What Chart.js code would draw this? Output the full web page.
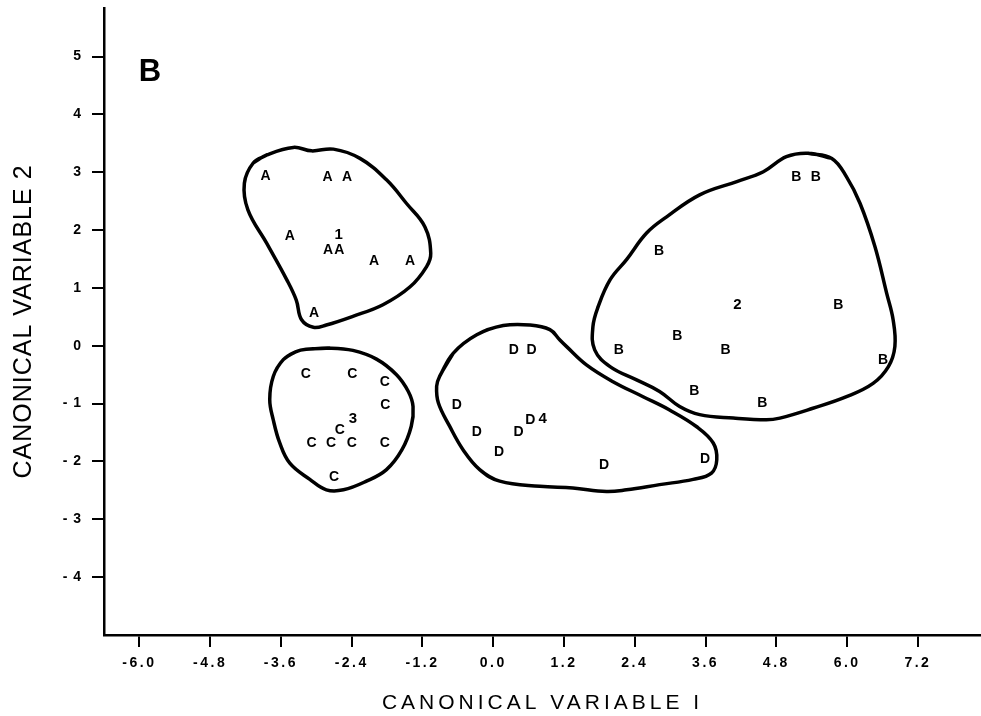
<!DOCTYPE html>
<html><head><meta charset="utf-8">
<script src="https://cdn.jsdelivr.net/npm/chart.js@4.4.1/dist/chart.umd.min.js"></script>
<style>html,body{margin:0;padding:0;background:#fff}canvas{display:block}</style>
</head><body>
<canvas id="c" width="981" height="716"></canvas>
<script>
// ---- tick labels ----
const xTickValues = [-6.0, -4.8, -3.6, -2.4, -1.2, 0.0, 1.2, 2.4, 3.6, 4.8, 6.0, 7.2];
const xTickLabels = ['-6.0', '-4.8', '-3.6', '-2.4', '-1.2', '0.0', '1.2', '2.4', '3.6', '4.8', '6.0', '7.2'];
const yTickValues = [-4, -3, -2, -1, 0, 1, 2, 3, 4, 5];
const yTickLabels = ['- 4', '- 3', '- 2', '- 1', '0', '1', '2', '3', '4', '5'];
const xTitle = 'CANONICAL VARIABLE I';
const yTitle = 'CANONICAL VARIABLE 2';
const panelLabel = 'B';

// ---- observations (canonical variable 1, canonical variable 2) ----
const groupA = [[-3.86, 2.94], [-2.81, 2.91], [-2.48, 2.91], [-3.45, 1.90], [-2.80, 1.65], [-2.61, 1.65], [-2.02, 1.47], [-1.41, 1.47], [-3.04, 0.56]];
const groupB = [[5.14, 2.92], [5.47, 2.92], [2.81, 1.64], [5.85, 0.71], [3.12, 0.17], [2.13, -0.07], [3.94, -0.07], [6.61, -0.25], [3.41, -0.79], [4.56, -1.00]];
const groupC = [[-3.18, -0.49], [-2.39, -0.49], [-1.84, -0.63], [-1.83, -1.02], [-2.60, -1.46], [-3.08, -1.68], [-2.75, -1.68], [-2.40, -1.68], [-1.84, -1.68], [-2.70, -2.27]];
const groupD = [[0.35, -0.08], [0.65, -0.08], [-0.62, -1.02], [0.63, -1.28], [-0.28, -1.50], [0.43, -1.50], [0.10, -1.83], [1.88, -2.07], [3.59, -1.96]];

// ---- group centroids ----
const centroids = [[-2.62, 1.92], [4.14, 0.71], [-2.38, -1.27], [0.84, -1.27]];
const centroidLabels = ['1', '2', '3', '4'];

// ---- hand-drawn group envelopes ----
const outlineA = [[-4.07, 3.16], [-3.84, 3.30], [-3.39, 3.43], [-3.08, 3.37], [-2.71, 3.40], [-2.26, 3.24], [-1.81, 2.87], [-1.47, 2.46], [-1.16, 2.06], [-1.06, 1.60], [-1.13, 1.37], [-1.41, 1.02], [-1.87, 0.71], [-2.38, 0.51], [-2.83, 0.36], [-3.05, 0.32], [-3.25, 0.45], [-3.34, 0.79], [-3.50, 1.14], [-3.84, 1.77], [-4.16, 2.35], [-4.22, 2.81]];
const outlineB = [[5.34, 3.33], [5.74, 3.24], [5.99, 2.92], [6.22, 2.46], [6.47, 1.72], [6.67, 0.91], [6.78, 0.45], [6.81, -0.01], [6.70, -0.36], [6.44, -0.65], [5.99, -0.88], [5.42, -1.08], [4.86, -1.25], [4.63, -1.28], [4.07, -1.25], [3.50, -1.19], [3.16, -1.05], [2.82, -0.79], [2.43, -0.59], [1.98, -0.36], [1.72, -0.07], [1.69, 0.33], [1.78, 0.68], [1.98, 1.14], [2.26, 1.49], [2.60, 1.95], [2.94, 2.23], [3.50, 2.61], [4.13, 2.84], [4.58, 3.01], [4.97, 3.27]];
const outlineC = [[-3.17, -0.06], [-2.77, -0.04], [-2.38, -0.08], [-1.98, -0.23], [-1.64, -0.50], [-1.44, -0.79], [-1.36, -1.05], [-1.39, -1.39], [-1.55, -1.80], [-1.81, -2.14], [-2.15, -2.34], [-2.54, -2.49], [-2.83, -2.49], [-3.11, -2.31], [-3.45, -2.03], [-3.62, -1.68], [-3.73, -1.28], [-3.79, -0.93], [-3.73, -0.53], [-3.56, -0.24], [-3.34, -0.10]];
const outlineD = [[-0.91, -0.53], [-0.68, -0.13], [-0.28, 0.19], [0.17, 0.35], [0.62, 0.36], [0.96, 0.28], [1.13, 0.10], [1.24, -0.01], [1.58, -0.33], [2.03, -0.62], [2.54, -0.88], [2.99, -1.11], [3.45, -1.40], [3.73, -1.68], [3.79, -1.97], [3.70, -2.20], [3.39, -2.31], [2.82, -2.40], [2.26, -2.49], [1.92, -2.52], [1.35, -2.46], [0.79, -2.43], [0.11, -2.34], [-0.23, -2.14], [-0.51, -1.80], [-0.74, -1.39], [-0.93, -0.99], [-0.96, -0.70]];

const FAMILY = '"Liberation Sans", Arial, Helvetica, sans-serif';
const LETTER_FONT = 'bold 14px ' + FAMILY;

function pts(arr) { return arr.map(p => ({ x: p[0], y: p[1] })); }
function closed(arr) { return pts([...arr, arr[0], arr[1]]); }

function outlineDs(arr) {
  return { data: closed(arr), showLine: true, borderColor: '#000', borderWidth: 3.5,
           pointRadius: 0, pointHoverRadius: 0, tension: 0.4, fill: false, borderCapStyle: 'round', borderJoinStyle: 'round' };
}
function letterDs(arr, text) {
  return { data: pts(arr), showLine: false, pointRadius: 0, pointHoverRadius: 0, labelText: text, labelFont: LETTER_FONT };
}

// give a scale's drawing method its own canvas letter spacing
function spaced(scale, method, spacing) {
  const key = '_sp_' + method;
  if (scale[key]) return;
  const orig = scale[method];
  scale[method] = function (...args) {
    const c = this.ctx;
    const prev = c.letterSpacing;
    c.letterSpacing = spacing;
    try { orig.apply(this, args); } finally { c.letterSpacing = prev; }
  };
  scale[key] = true;
}

const textPlugin = {
  id: 'textPlugin',
  afterDatasetsDraw(chart) {
    const ctx = chart.ctx;
    ctx.save();
    ctx.fillStyle = '#000';
    ctx.textAlign = 'center';
    ctx.textBaseline = 'middle';
    chart.data.datasets.forEach((ds, i) => {
      if (!ds.labelText) return;
      const meta = chart.getDatasetMeta(i);
      ctx.font = ds.labelFont;
      meta.data.forEach((el, j) => {
        const t = Array.isArray(ds.labelText) ? ds.labelText[j] : ds.labelText;
        ctx.fillText(t, el.x, el.y);
      });
    });
    const a = chart.chartArea;
    ctx.font = 'bold 31px ' + FAMILY;
    ctx.fillText(panelLabel, a.left + 46, a.top + 64);
    ctx.restore();
  }
};

new Chart(document.getElementById('c'), {
  type: 'scatter',
  data: {
    datasets: [
      outlineDs(outlineA), outlineDs(outlineB), outlineDs(outlineC), outlineDs(outlineD),
      letterDs(groupA, 'A'), letterDs(groupB, 'B'), letterDs(groupC, 'C'), letterDs(groupD, 'D'),
      { data: pts(centroids), showLine: false, pointRadius: 0, pointHoverRadius: 0, labelText: centroidLabels, labelFont: 'bold 15px ' + FAMILY }
    ]
  },
  options: {
    responsive: false,
    devicePixelRatio: 1,
    animation: false,
    events: [],
    layout: { padding: { top: 8, right: 0, bottom: 0, left: 0 } },
    plugins: { legend: { display: false }, tooltip: { enabled: false } },
    scales: {
      x: {
        type: 'linear', position: 'bottom', min: -6.60, max: 8.27,
        afterFit(s) {
          s.height = 81; s.paddingLeft = 0; s.paddingRight = 0;
          spaced(s, 'drawTitle', '4px'); spaced(s, 'drawLabels', '2.5px');
        },
        afterBuildTicks(s) { s.ticks = xTickValues.map(v => ({ value: v })); },
        grid: { display: true, drawOnChartArea: false, drawTicks: true, tickLength: 12, color: '#000', lineWidth: 2 },
        border: { display: true, color: '#000', width: 2.5 },
        ticks: { color: '#000', autoSkip: false, maxRotation: 0, padding: 8,
                 font: { family: FAMILY, size: 14, weight: 'bold' },
                 callback: (v, i) => xTickLabels[i] },
        title: { display: true, text: xTitle, color: '#000', font: { family: FAMILY, size: 21 }, padding: { top: 0, bottom: 0 } }
      },
      y: {
        type: 'linear', position: 'left', min: -5.0, max: 5.84,
        afterFit(s) {
          s.width = 104; s.paddingTop = 0; s.paddingBottom = 0;
          spaced(s, 'drawTitle', '1px'); spaced(s, 'drawLabels', '1px');
        },
        afterBuildTicks(s) { s.ticks = yTickValues.map(v => ({ value: v })); },
        grid: { display: true, drawOnChartArea: false, drawTicks: true, tickLength: 12, color: '#000', lineWidth: 2 },
        border: { display: true, color: '#000', width: 2.5 },
        ticks: { color: '#000', autoSkip: false, padding: 10,
                 font: { family: FAMILY, size: 14, weight: 'bold' },
                 callback: (v, i) => yTickLabels[i] },
        title: { display: true, text: yTitle, color: '#000', font: { family: FAMILY, size: 25 }, padding: { top: 9, bottom: 0 } }
      }
    }
  },
  plugins: [textPlugin]
});
</script>
</body></html>
